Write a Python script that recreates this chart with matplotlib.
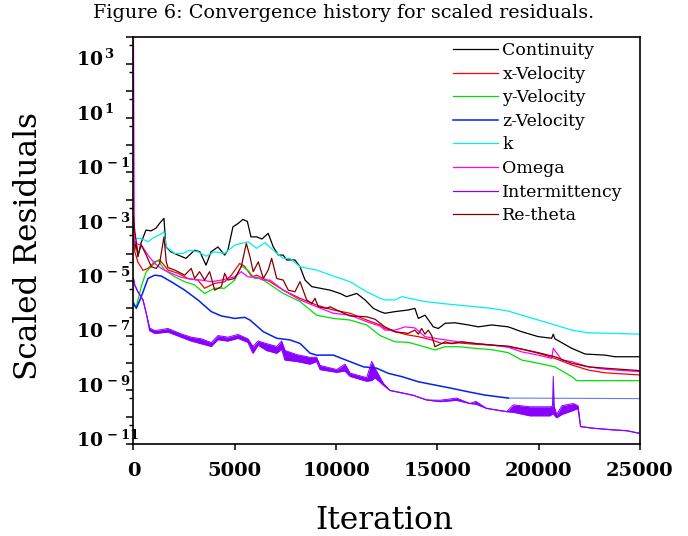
import matplotlib
matplotlib.use("Agg")
import matplotlib.pyplot as plt
import numpy as np
from matplotlib.ticker import FixedLocator, FuncFormatter
from matplotlib.transforms import ScaledTranslation

plt.rcParams['font.family'] = ['DejaVu Serif']
plt.rcParams['mathtext.fontset'] = 'dejavuserif'

# values are log10 of the scaled residual
cont_it = [0, 60, 125, 220, 370, 617, 864, 1110, 1290, 1505, 1600, 1850, 2200, 2590, 3020, 3280,
           3580, 3830, 4170, 4500, 4660, 4910, 5160, 5400, 5620, 5800, 6080, 6340, 6650, 6900,
           7150, 7390, 7560, 7970, 8220, 8470, 8800, 9210, 9700, 10190, 10520, 11020, 11430,
           11840, 12170, 12410, 12910, 13560, 13890, 14060, 14390, 14800, 15050, 15380, 15870,
           16530, 17020, 17680, 18500, 19160, 19980, 20640, 20720, 20800, 21630, 22290, 23270,
           23770, 25000]
cont_log = [-3.3, -3.86, -3.55, -4.1, -3.6, -3.12, -3.15, -3.05, -2.87, -2.69, -3.74, -3.92, -4.04,
            -4.16, -3.86, -3.92, -4.41, -3.92, -3.74, -4.04, -3.86, -3.0, -2.88, -2.73, -2.8, -3.37,
            -3.37, -3.45, -3.24, -3.74, -4.04, -4.04, -4.22, -4.22, -4.47, -4.96, -5.2, -5.26,
            -5.33, -5.45, -5.57, -5.45, -5.69, -6.0, -6.12, -6.18, -6.12, -6.06, -6.0, -6.37,
            -6.25, -6.68, -6.74, -6.55, -6.53, -6.61, -6.68, -6.61, -6.68, -6.86, -7.04, -7.1,
            -6.95, -7.12, -7.47, -7.68, -7.72, -7.78, -7.78]

xvel_it = [0, 60, 220, 470, 716, 1046, 1290, 1440, 1700, 2200, 2690, 3180, 3510, 4010, 4500, 4830,
           5240, 5480, 5850, 6080, 6240, 6740, 7390, 8220, 9040, 9860, 10690, 11510, 12170, 12410,
           12910, 13560, 14060, 14720, 15210, 16030, 16860, 17680, 18500, 19160, 19980, 20800,
           21630, 22450, 23270, 25000]
xvel_log = [-3.0, -3.9, -4.3, -4.6, -4.53, -4.29, -4.22, -4.35, -4.59, -4.71, -4.9, -4.96, -5.26,
            -5.08, -5.02, -4.78, -4.35, -4.45, -4.84, -4.78, -4.84, -5.02, -5.33, -5.63, -5.88,
            -6.06, -6.18, -6.43, -6.61, -6.74, -6.86, -6.98, -7.04, -7.16, -7.29, -7.27, -7.32,
            -7.35, -7.41, -7.5, -7.65, -7.84, -8.08, -8.27, -8.37, -8.45]

yvel_it = [0, 140, 385, 630, 960, 1210, 1370, 1540, 2035, 2530, 3020, 3510, 4010, 4500, 5000, 5320,
           5650, 5980, 6240, 6410, 7390, 8220, 9040, 9860, 10690, 11510, 12170, 12910, 13560,
           14060, 14880, 15380, 16030, 16860, 17680, 18500, 19160, 19980, 20800, 21630, 21880,
           25000]
yvel_log = [-5.9, -5.94, -5.2, -4.65, -4.41, -4.22, -4.41, -4.59, -4.84, -5.02, -5.14, -5.45, -5.26,
            -5.26, -4.96, -4.44, -4.6, -4.9, -4.9, -4.96, -5.45, -5.75, -6.25, -6.37, -6.43, -6.61,
            -7.0, -7.23, -7.25, -7.35, -7.53, -7.41, -7.41, -7.47, -7.52, -7.63, -7.9, -8.02,
            -8.15, -8.51, -8.66, -8.66]

zvel_it = [0, 140, 385, 716, 1046, 1370, 1860, 2530, 3180, 3840, 4340, 5000, 5490, 5750, 6410, 7070,
           7720, 8220, 8720, 9040, 9860, 10690, 11350, 12000, 12580, 13240, 14060, 14880, 15700,
           16530, 17350, 18500, 25000]
zvel_log = [-5.8, -6.0, -5.57, -4.9, -4.78, -4.81, -5.02, -5.33, -5.69, -6.12, -6.28, -6.37, -6.33,
            -6.43, -6.86, -7.1, -7.16, -7.29, -7.65, -7.72, -7.72, -7.96, -8.15, -8.2, -8.39,
            -8.51, -8.7, -8.82, -8.94, -9.07, -9.19, -9.3, -9.32]

k_it = [0, 60, 385, 716, 1046, 1290, 1505, 1620, 2035, 2440, 2775, 3180, 3590, 4010, 4500, 5000,
        5650, 6080, 6490, 6985, 7390, 7720, 8220, 9040, 9860, 10690, 11510, 12170, 12410, 12910,
        13240, 13560, 14390, 15210, 16030, 16860, 17680, 18500, 19160, 19980, 20800, 21630, 22450,
        23770, 25000]
k_log = [-3.2, -3.43, -3.43, -3.55, -3.37, -3.3, -3.18, -3.74, -3.98, -3.98, -3.86, -3.92, -4.08,
         -3.92, -3.98, -3.67, -3.55, -3.79, -3.58, -3.92, -4.16, -4.16, -4.47, -4.59, -4.81, -5.02,
         -5.39, -5.63, -5.69, -5.69, -5.57, -5.62, -5.75, -5.82, -5.88, -5.94, -6.0, -6.1, -6.25,
         -6.43, -6.61, -6.8, -6.9, -6.92, -6.95]

omega_it = [0, 40, 60, 385, 716, 1046, 1370, 1860, 2360, 2850, 3350, 3840, 4340, 4500, 5000, 5320,
            5650, 6080, 6410, 6740, 7390, 8220, 9040, 9860, 10690, 11510, 12170, 12410, 12910,
            13400, 13890, 14390, 15210, 16030, 16860, 17680, 18500, 19160, 19980, 20640, 20720,
            21140, 21630, 22450, 23270, 25000]
omega_log = [3.9, -3.3, -3.61, -3.67, -4.04, -4.35, -4.53, -4.71, -4.86, -4.93, -4.96, -5.02, -4.96,
             -4.93, -4.84, -4.65, -4.84, -4.86, -4.96, -4.96, -5.33, -5.69, -5.94, -6.18, -6.25,
             -6.49, -6.65, -6.8, -6.8, -6.68, -6.72, -7.04, -7.14, -7.23, -7.29, -7.35, -7.43,
             -7.6, -7.72, -7.84, -7.47, -7.9, -7.96, -8.15, -8.24, -8.33]

# intermittency is a noisy band: lower / upper edge
inter_it = [0, 60, 220, 470, 630, 800, 1050, 1700, 2360, 2850, 3350, 3840, 4170, 4660, 5160, 5650,
            5900, 6150, 6575, 7070, 7315, 7480, 8055, 8710, 9040, 9210, 10030, 10440, 10690, 11510,
            11760, 11920, 12330, 12660, 13320, 13810, 14470, 15130, 15950, 16610, 16900, 17430,
            18420, 18750, 19570, 20560, 20680, 20720, 20760, 20890, 21150, 21710, 21940, 22070,
            22700, 23680, 24340, 25000]
inter_lo = [-4.9, -5.14, -5.39, -5.69, -6.18, -6.82, -6.92, -6.87, -7.06, -7.2, -7.3, -7.4, -7.15,
            -7.2, -7.1, -7.25, -7.65, -7.35, -7.55, -7.65, -7.5, -7.9, -7.95, -8.05, -7.95, -8.25,
            -8.35, -8.3, -8.5, -8.68, -8.65, -8.55, -8.82, -9.02, -9.12, -9.2, -9.37, -9.43, -9.38,
            -9.5, -9.52, -9.68, -9.8, -9.82, -9.95, -9.95, -9.88, -9.88, -9.92, -10.02, -9.9,
            -9.75, -9.68, -10.35, -10.41, -10.47, -10.5, -10.6]
inter_hi = [-4.9, -5.14, -5.39, -5.69, -6.18, -6.72, -6.82, -6.74, -6.94, -7.06, -7.12, -7.26,
            -7.0, -7.06, -6.96, -7.12, -7.4, -7.2, -7.3, -7.4, -7.2, -7.55, -7.7, -7.8, -7.8,
            -8.1, -8.25, -8.05, -8.38, -8.55, -7.95, -8.2, -8.75, -9.02, -9.12, -9.2, -9.37, -9.38,
            -9.3, -9.5, -9.42, -9.68, -9.8, -9.55, -9.62, -9.62, -9.6, -8.5, -9.6, -9.9, -9.58,
            -9.5, -9.58, -10.35, -10.41, -10.47, -10.5, -10.6]

retheta_it = [0, 60, 220, 385, 630, 880, 1130, 1290, 1370, 1505, 1620, 1700, 2035, 2530, 2850, 3020,
              3260, 3510, 3760, 4010, 4340, 4500, 4660, 4990, 5320, 5570, 5750, 5910, 6160, 6410,
              6650, 6820, 7070, 7390, 7640, 7970, 8220, 8550, 8800, 8960, 9120, 9540, 9700, 10030,
              10690, 11510, 11920, 12410, 12910, 13560, 13890, 14060, 14220, 14390, 14550, 14720,
              14880, 15050, 15380, 15700, 16200, 16860, 17680, 18500, 19980, 20800, 21630, 22450,
              23270, 25000]
retheta_log = [-2.6, -3.12, -4.04, -3.67, -4.04, -4.47, -4.53, -4.35, -3.98, -3.37, -4.29, -4.5,
               -4.59, -4.78, -4.53, -4.9, -4.65, -4.96, -4.65, -5.33, -5.2, -4.71, -4.96, -4.9,
               -4.47, -3.61, -4.1, -4.65, -4.29, -4.9, -4.59, -4.16, -4.9, -4.96, -5.33, -5.39,
               -5.02, -5.69, -5.82, -5.63, -5.94, -6.0, -5.94, -6.06, -6.28, -6.31, -6.4, -6.68,
               -6.86, -6.92, -6.8, -6.95, -6.74, -6.95, -6.8, -7.0, -7.41, -7.35, -7.23, -7.3, -7.23,
               -7.29, -7.35, -7.39, -7.63, -7.78, -8.02, -8.15, -8.2, -8.29]

purple = '#8a00ff'
blue = '#0022ee'

fig = plt.figure(figsize=(6.88, 5.36), dpi=100)
ax = fig.add_axes([0.194, 0.1711, 0.7362, 0.7608])

lw = 0.9
ax.plot(cont_it, 10 ** np.array(cont_log), color='black', lw=lw, label='Continuity')
ax.plot(xvel_it, 10 ** np.array(xvel_log), color='#ff0000', lw=lw, label='x-Velocity')
ax.plot(yvel_it, 10 ** np.array(yvel_log), color='#00e000', lw=lw, label='y-Velocity')
ax.plot(zvel_it[:-1], 10 ** np.array(zvel_log[:-1]), color=blue, lw=1.1, label='z-Velocity')
# after ~18500 iterations the z-velocity trace is drawn thinner/lighter
ax.plot(zvel_it[-2:], 10 ** np.array(zvel_log[-2:]), color=blue, lw=0.8, alpha=0.6)
ax.plot(k_it, 10 ** np.array(k_log), color='#00f0f0', lw=lw, label='k')
ax.plot(omega_it, 10 ** np.array(omega_log), color='#ff00ff', lw=lw, label='Omega')
ax.fill_between(inter_it, 10 ** np.array(inter_lo), 10 ** np.array(inter_hi), color=purple, lw=0)
ax.plot(inter_it, 10 ** np.array(inter_lo), color=purple, lw=lw, label='Intermittency')
ax.plot(inter_it, 10 ** np.array(inter_hi), color=purple, lw=0.7)
ax.plot(retheta_it, 10 ** np.array(retheta_log), color='#800000', lw=lw, label='Re-theta')

ax.set_yscale('log')
ax.set_xlim(0, 25000)
ax.set_ylim(1e-11, 1e4)

ax.xaxis.set_major_locator(FixedLocator([0, 5000, 10000, 15000, 20000, 25000]))
ax.yaxis.set_major_locator(FixedLocator([10.0 ** e for e in range(-11, 5)]))
ax.yaxis.set_minor_locator(FixedLocator([5 * 10.0 ** e for e in range(-12, 4)]))


def yfmt(v, pos):
    e = int(round(np.log10(v)))
    if e % 2 == 0:
        return ''
    return r'$\mathbf{10^{\,%d}}$' % e


ax.yaxis.set_major_formatter(FuncFormatter(yfmt))
ax.yaxis.set_minor_formatter(FuncFormatter(lambda v, p: ''))

for s in ax.spines.values():
    s.set_linewidth(1.2)
ax.tick_params(axis='y', which='major', direction='out', length=5, width=1.1, pad=36.4, labelsize=13.5)
ax.tick_params(axis='y', which='minor', direction='out', length=3, width=1.0)
ax.tick_params(axis='x', which='major', direction='out', length=4.5, width=1.1, pad=8, labelsize=14)
shift_up = ScaledTranslation(0, 6 / 100, fig.dpi_scale_trans)
for lab in ax.get_yticklabels():
    lab.set_horizontalalignment('left')
    lab.set_transform(lab.get_transform() + shift_up)
for lab in ax.get_xticklabels():
    lab.set_fontweight('bold')

ax.legend(loc='upper left', bbox_to_anchor=(453 / 688, 1 - 42 / 536), bbox_transform=fig.transFigure,
          frameon=False, fontsize=12.5, borderpad=0, borderaxespad=0, handlelength=2.6,
          handletextpad=0.25, labelspacing=0.38)

fig.text(0.5, 1 - 13 / 536, 'Figure 6: Convergence history for scaled residuals.', ha='center',
         va='center', fontsize=13.8)
fig.text(29 / 688, 1 - 246 / 536, 'Scaled Residuals', rotation=90, ha='center', va='center',
         fontsize=22.5)
fig.text(384 / 688, 1 - 529 / 536, 'Iteration', ha='center', va='baseline', fontsize=22.5)

fig.savefig('out.png', dpi=100)
